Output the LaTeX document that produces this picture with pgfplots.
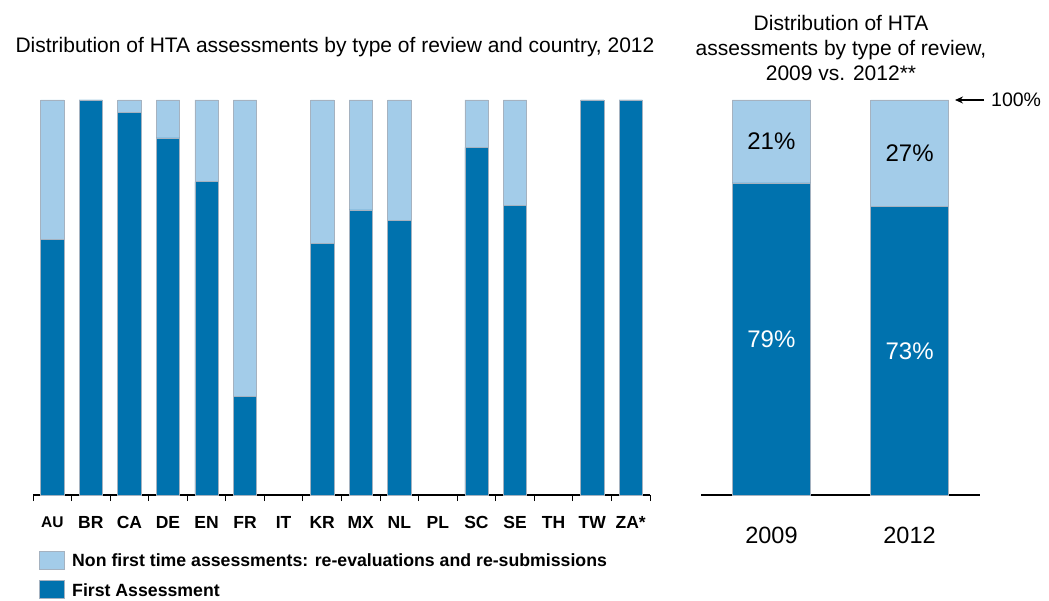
\documentclass[border=0pt]{standalone}
\usepackage{pgfplots}
\pgfplotsset{compat=1.18}
\usepackage{pgfplotstable}
\usepackage{fontspec}
\setmainfont{Liberation Sans}
\usetikzlibrary{arrows.meta}
\definecolor{dark}{RGB}{0,114,174}
\definecolor{light}{RGB}{163,204,233}
\definecolor{edge}{RGB}{165,178,192}

\pgfplotstableread{
x first non
0 64.8 35.2
1 100 0
2 96.9 3.1
3 90.4 9.6
4 79.3 20.7
5 24.9 75.1
7 63.7 36.3
8 72.2 27.8
9 69.6 30.4
11 88.0 12.0
12 73.3 26.7
14 100 0
15 100 0
}\countrydata

\pgfplotstableread{
x first non
1 79 21
2 73 27
}\yeardata

\begin{document}
\begin{tikzpicture}[x=1pt,y=1pt]
\useasboundingbox (0,0) rectangle (1049,600);

\begin{axis}[
  at={(33pt,105pt)}, anchor=south west, scale only axis,
  width=617pt, height=395pt,
  xmin=-0.5, xmax=15.5, ymin=0, ymax=100,
  ybar stacked, bar width=23.3pt,
  axis x line*=bottom, axis y line=none,
  axis line style={black, line width=1.2pt},
  xtick={0,...,15},
  xticklabels={{\fontsize{15.5}{15.5}\selectfont AU},BR,CA,DE,EN,FR,IT,KR,MX,NL,PL,SC,SE,TH,TW,ZA*},
  major tick length=0pt,
  minor xtick={-0.5,0.5,...,15.5},
  minor tick length=6pt,
  tick align=outside,
  minor tick style={black, line width=1pt},
  xticklabel style={font=\fontsize{17.5}{17.5}\selectfont\bfseries, yshift=-18pt},
  clip=false,
]
\addplot[fill=dark, draw=edge, line width=0.6pt] table[x=x, y=first] {\countrydata};
\addplot[fill=light, draw=edge, line width=0.6pt] table[x=x, y=non] {\countrydata};
\end{axis}

\begin{axis}[
  name=yr,
  at={(701pt,105pt)}, anchor=south west, scale only axis,
  width=279pt, height=395pt,
  xmin=0.49, xmax=2.51, ymin=0, ymax=100,
  ybar stacked, bar width=78pt,
  axis x line*=bottom, axis y line=none,
  axis line style={black, line width=1.2pt},
  xtick={1,2}, xticklabels={2009,2012},
  major tick length=0pt,
  xticklabel style={font=\fontsize{23.5}{23.5}\selectfont, yshift=-29pt},
  clip=false,
]
\addplot[fill=dark, draw=edge, line width=0.6pt] table[x=x, y=first] {\yeardata};
\addplot[fill=light, draw=edge, line width=0.6pt] table[x=x, y=non] {\yeardata};
\end{axis}

% segment labels (centres of the 2009 / 2012 bar segments)
\node[white, font=\fontsize{24}{24}\selectfont] at (771.4,261.0) {79\%};
\node[white, font=\fontsize{24}{24}\selectfont] at (909.6,249.2) {73\%};
\node[black, font=\fontsize{24}{24}\selectfont] at (771.4,458.5) {21\%};
\node[black, font=\fontsize{24}{24}\selectfont] at (909.6,446.7) {27\%};

% titles
\node[font=\fontsize{21}{25}\selectfont] at (335,553) {Distribution of HTA assessments by type of review and country, 2012};
\node[align=center, font=\fontsize{21}{25}\selectfont] at (841,552) {Distribution of HTA\\assessments by type of review,\\2009 vs. 2012**};

% 100% marker
\draw[-{Stealth[length=8pt,width=7pt]}, line width=1.2pt] (984,500) -- (955,500);
\node[anchor=west, font=\fontsize{19.5}{19.5}\selectfont, inner sep=0pt] at (991,500) {100\%};

% legend
\filldraw[fill=light, draw=edge, line width=0.6pt] (39,31) rectangle (64,49);
\node[anchor=west, font=\fontsize{17.7}{17.7}\selectfont\bfseries, inner sep=0pt] at (72,40) {Non first time assessments: re-evaluations and re-submissions};
\filldraw[fill=dark, draw=edge, line width=0.6pt] (39,2) rectangle (64,20);
\node[anchor=west, font=\fontsize{17.7}{17.7}\selectfont\bfseries, inner sep=0pt] at (72,10) {First Assessment};
\end{tikzpicture}
\end{document}
